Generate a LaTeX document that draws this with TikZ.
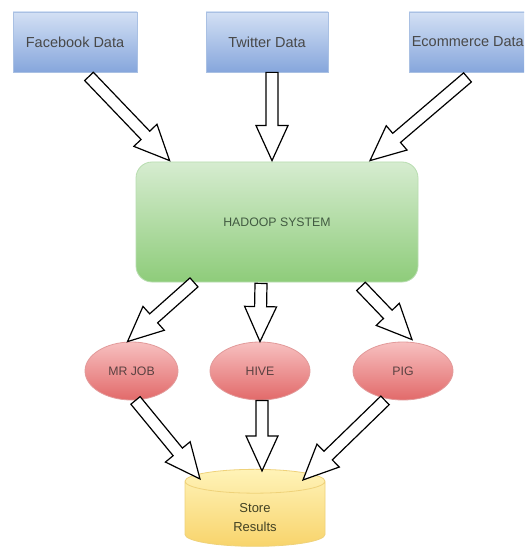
\documentclass[tikz,border=0pt]{standalone}
\usepackage{fontspec}
\setmainfont{Liberation Sans}
\usetikzlibrary{shapes.geometric,calc}
\definecolor{bluetop}{HTML}{D3E0F4}
\definecolor{bluebot}{HTML}{86A6DC}
\definecolor{blueline}{HTML}{A9C0E3}
\definecolor{greentop}{HTML}{D6ECD0}
\definecolor{greenbot}{HTML}{8ECC7A}
\definecolor{greenline}{HTML}{B8DDB0}
\definecolor{redtop}{HTML}{F7C0C0}
\definecolor{redbot}{HTML}{E26A6A}
\definecolor{redline}{HTML}{E29A9A}
\definecolor{yeltop}{HTML}{FFF3B8}
\definecolor{yelbot}{HTML}{F8D46C}
\definecolor{yelline}{HTML}{EFD27A}
\definecolor{txtgray}{HTML}{484848}
\tikzset{
  srcbox/.style={rectangle, draw=blueline, line width=0.8pt, top color=bluetop, bottom color=bluebot,
    minimum height=60pt, inner sep=0pt, text=txtgray, font=\fontsize{14.5}{16}\selectfont},
  hadoopbox/.style={rectangle, rounded corners=16pt, draw=greenline, line width=0.8pt,
    top color=greentop, bottom color=greenbot, minimum width=282pt, minimum height=120pt,
    text=txtgray!90!green, font=\fontsize{12.3}{14}\selectfont},
  jobnode/.style={ellipse, draw=redline, line width=0.8pt, top color=redtop, bottom color=redbot,
    minimum height=58pt, inner sep=0pt, text=txtgray!90!red, font=\fontsize{12.3}{14}\selectfont},
  storenode/.style={cylinder, shape border rotate=90, aspect=0.55, draw=yelline, line width=0.8pt,
    top color=yeltop, bottom color=yelbot, minimum width=140pt, minimum height=77pt,
    inner sep=0pt, text=txtgray!80!yellow!60!black, font=\fontsize{13}{19}\selectfont},
  barrow/.style={draw=black, line width=1.2pt, fill=white, line join=miter},
}
\newcommand\myblockarrow[2]{%
  \path (#1) coordinate (ba-s) (#2) coordinate (ba-t);
  \path ($(ba-t)!35pt!(ba-s)$) coordinate (ba-h);
  \draw[barrow] ($(ba-s)!6pt!90:(ba-t)$) -- ($(ba-h)!6pt!90:(ba-t)$) -- ($(ba-h)!16pt!90:(ba-t)$)
    -- (ba-t) -- ($(ba-h)!16pt!-90:(ba-t)$) -- ($(ba-h)!6pt!-90:(ba-t)$)
    -- ($(ba-s)!6pt!-90:(ba-t)$) -- cycle;
}
\begin{document}
\begin{tikzpicture}[x=1pt,y=-1pt]
\clip (0,0) rectangle (524,548);
\fill[white] (0,0) rectangle (524,548);
% source boxes
\node[srcbox, minimum width=124pt] (fb) at (75,42) {Facebook Data};
\node[srcbox, minimum width=122pt] (tw) at (267,42) {Twitter Data};
\node[srcbox, minimum width=131pt] (ec) at (474.5,42) {};
\node[anchor=west, inner sep=0pt, text=txtgray, font=\fontsize{14.5}{16}\selectfont] (ectext) at ($(ec.west)+(3,0)$) {Ecommerce Data};
% hadoop
\node[hadoopbox] (hadoop) at (277,222) {HADOOP SYSTEM};
% jobs
\node[jobnode, minimum width=93pt] (mr) at (131.5,371) {MR JOB};
\node[jobnode, minimum width=100pt] (hive) at (260,371) {HIVE};
\node[jobnode, minimum width=100pt] (pig) at (403,371) {PIG};
% store
\node[storenode] (store) at (255,514) {\raisebox{-7pt}[0pt][0pt]{\begin{tabular}{@{}c@{}}Store\\Results\end{tabular}}};
% arrow end points
\coordinate (a1s) at ($(fb.south)+(14,4)$);
\coordinate (a1t) at ($(hadoop.north west)+(34,-1)$);
\coordinate (a2s) at ($(tw.south)+(5,0)$);
\coordinate (a2t) at ($(hadoop.north)+(-5,-1)$);
\coordinate (a3s) at ($(ec.south)+(-7,5)$);
\coordinate (a3t) at ($(hadoop.north)+(93,-1)$);
\coordinate (a4s) at ($(hadoop.south)+(-83,0)$);
\coordinate (a4t) at ($(mr.north)+(-4,0)$);
\coordinate (a5s) at ($(hadoop.south)+(-16,1)$);
\coordinate (a5t) at (hive.north);
\coordinate (a6s) at ($(hadoop.south)+(84,4)$);
\coordinate (a6t) at ($(pig.north)+(9,-2)$);
\coordinate (a7s) at ($(mr.south)+(4,0)$);
\coordinate (a7t) at ($(store.north)+(-55,10)$);
\coordinate (a8s) at ($(hive.south)+(2,0)$);
\coordinate (a8t) at ($(store.north)+(7,2)$);
\coordinate (a9s) at ($(pig.south)+(-18,0)$);
\coordinate (a9t) at ($(store.north)+(48,11)$);
\myblockarrow{a1s}{a1t}
\myblockarrow{a2s}{a2t}
\myblockarrow{a3s}{a3t}
\myblockarrow{a4s}{a4t}
\myblockarrow{a5s}{a5t}
\myblockarrow{a6s}{a6t}
\myblockarrow{a7s}{a7t}
\myblockarrow{a8s}{a8t}
\myblockarrow{a9s}{a9t}
\end{tikzpicture}
\end{document}
